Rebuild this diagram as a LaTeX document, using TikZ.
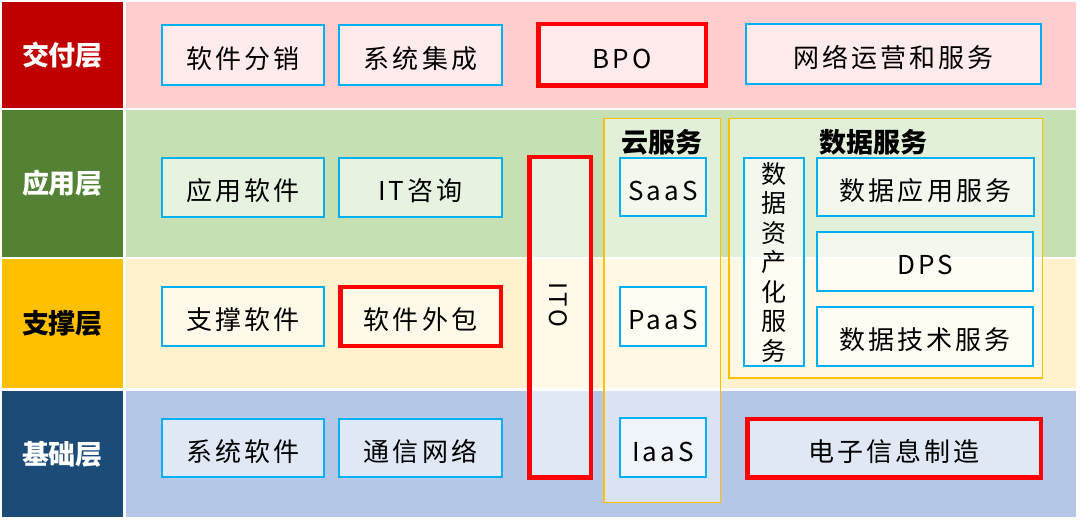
\documentclass[tikz,border=0pt]{standalone}
\usepackage{fontspec}
\setmainfont{Noto Sans CJK SC}
\newfontfamily\boxfont[LetterSpace=12]{Noto Sans CJK SC}
\usetikzlibrary{positioning}
\definecolor{DeliverRed}{HTML}{C00000}
\definecolor{DeliverBand}{HTML}{FFCDCD}
\definecolor{ApplyGreen}{HTML}{548235}
\definecolor{ApplyBand}{HTML}{C6E0B4}
\definecolor{SupportGold}{HTML}{FFC000}
\definecolor{SupportBand}{HTML}{FFF2CC}
\definecolor{BaseBlue}{HTML}{1B4B77}
\definecolor{BaseBand}{HTML}{B4C7E7}
\definecolor{ItemBlue}{HTML}{00B0F0}
\definecolor{HotRed}{HTML}{FF0000}

\begin{document}
\begin{tikzpicture}[x=1pt,y=-1pt,node distance=13pt,
  layer/.style={minimum width=121pt,inner sep=0pt,text=white,font=\fontsize{27}{32}\selectfont\bfseries},
  item/.style={draw=ItemBlue,line width=2pt,fill=white,fill opacity=0.6,text opacity=1,
    minimum width=162pt,minimum height=59pt,inner sep=0pt,text height=27pt,text depth=0pt,
    font=\boxfont\fontsize{26}{30}\selectfont},
  hot/.style={item,draw=HotRed,line width=4.5pt},
  group/.style={draw=SupportGold,line width=1.5pt,fill=white,fill opacity=0.5,inner sep=0pt},
  grouptitle/.style={inner sep=0pt,font=\fontsize{27}{32}\selectfont\bfseries}]
  \useasboundingbox (0,0) rectangle (1080,521);
  % layer bands
  \fill[DeliverBand] (126,2) rectangle (1076,108);
  \fill[ApplyBand] (126,110) rectangle (1076,257);
  \fill[SupportBand] (126,259) rectangle (1076,388);
  \fill[BaseBand] (126,391) rectangle (1076,517);
  % layer labels
  \node[layer,fill=DeliverRed,minimum height=106pt] (deliver) at (62.5,55) {交付层};
  \node[layer,fill=ApplyGreen,minimum height=147pt] (apply) at (62.5,183.5) {应用层};
  \node[layer,fill=SupportGold,text=black,minimum height=129pt] (support) at (62.5,323.5) {支撑层};
  \node[layer,fill=BaseBlue,minimum height=126pt] (base) at (62.5,454) {基础层};
  % cloud and data groups
  \node[group,minimum width=116.5pt,minimum height=383.5pt] (cloud) at (662,310.5) {};
  \node[grouptitle] (cloudtitle) at (662,142) {云服务};
  \node[group,minimum width=313.5pt,minimum height=259.5pt] (datasvc) at (885.5,248.5) {};
  \node[grouptitle] (datatitle) at (873,142) {数据服务};
  % delivery layer
  \node[item,minimum height=60pt] (distr) at (243,55) {软件分销};
  \node[item,minimum width=163pt,minimum height=60pt,right=of distr] (integ) {系统集成};
  \node[hot,minimum width=167.5pt,minimum height=61.5pt] (bpo) at (622,55) {BPO};
  \node[item,minimum width=295pt,minimum height=60pt] (netops) at (893.5,54) {网络运营和服务};
  % application layer
  \node[item] (appsw) at (243,187.5) {应用软件};
  \node[item,minimum width=163pt,right=of appsw] (itcons) {IT咨询};
  \node[hot,minimum width=61.5pt,minimum height=320.5pt] (ito) at (560,317.5) {};
  \node[rotate=-90,font=\boxfont\fontsize{24}{28}\selectfont] (itotext) at (558,305) {ITO};
  \node[item,minimum width=86pt,minimum height=58pt] (saas) at (663,187) {SaaS};
  \node[item,minimum width=60pt,minimum height=208pt,align=center,text height=,text depth=,
    font=\fontsize{25}{29.5}\selectfont] (asset) at (774,262) {数\\据\\资\\产\\化\\服\\务};
  \node[item,minimum width=217pt,minimum height=58pt] (dataapp) at (925.5,187) {数据应用服务};
  \node[item,minimum width=216pt] (dps) at (925,261.5) {DPS};
  \node[item,minimum width=216pt] (datatech) at (925,336.5) {数据技术服务};
  % support layer
  \node[item] (supsw) at (243,316.5) {支撑软件};
  \node[hot,minimum width=160.5pt,right=of supsw] (outsrc) {软件外包};
  \node[item,minimum width=86pt] (paas) at (663,316.5) {PaaS};
  % base layer
  \node[item,minimum height=58pt] (syssw) at (243,448) {系统软件};
  \node[item,minimum width=163pt,minimum height=58pt,right=of syssw] (telecom) {通信网络};
  \node[item,minimum width=86pt] (iaas) at (663,447.5) {IaaS};
  \node[hot,minimum width=293.5pt,minimum height=58.5pt] (elec) at (894,448.5) {电子信息制造};
\end{tikzpicture}
\end{document}
